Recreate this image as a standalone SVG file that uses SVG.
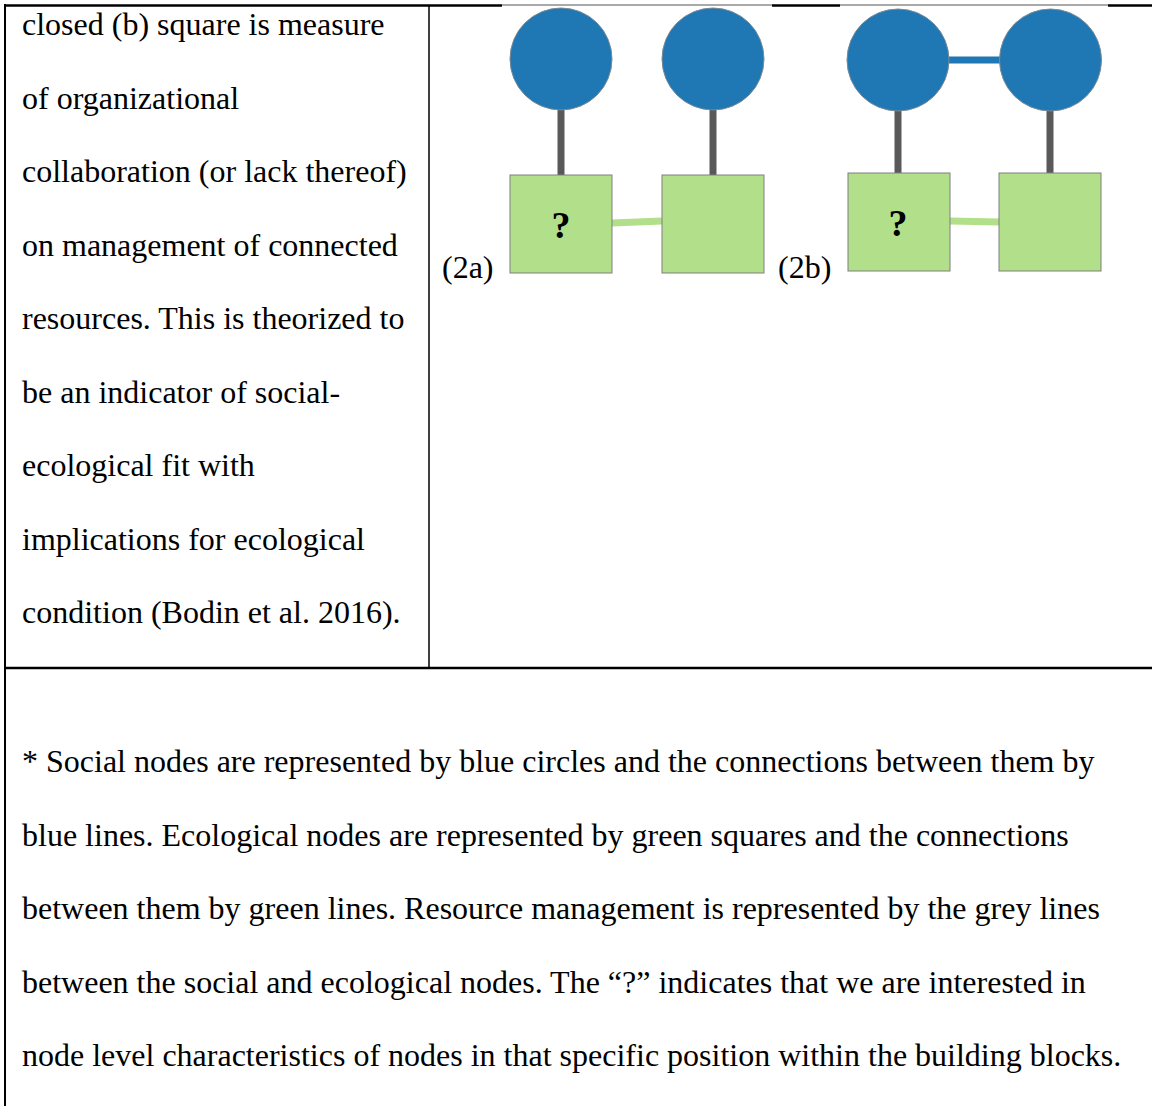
<svg xmlns="http://www.w3.org/2000/svg" width="1152" height="1106" viewBox="0 0 1152 1106">
  <style>
    .body { font-family: "Liberation Serif", "Times New Roman", serif; font-size: 32px; fill: #000; }
    .q { font-family: "Liberation Serif", "Times New Roman", serif; font-size: 38px; font-weight: bold; fill: #000; text-anchor: middle; }
    .rule { stroke: #000; fill: none; }
    .social { fill: #1f78b4; stroke: #7a8a96; stroke-width: 1; }
    .eco { fill: #b2df8a; stroke: #7f7f7f; stroke-width: 1; }
    .mgmt { stroke: #595959; stroke-width: 7; }
    .soclink { stroke: #1f78b4; stroke-width: 7; }
    .ecolink { stroke: #b2df8a; stroke-width: 7; }
    .imgedge { stroke: #555; stroke-width: 1; }
  </style>

  <rect width="1152" height="1106" fill="#fff"/>

  <!-- table frame -->
  <g id="table">
    <line class="rule" x1="4" y1="5.5" x2="502" y2="5.5" stroke-width="2.5"/>
    <line class="imgedge" x1="502" y1="5" x2="772" y2="5"/>
    <line class="rule" x1="772" y1="5.5" x2="840" y2="5.5" stroke-width="2.5"/>
    <line class="imgedge" x1="840" y1="5" x2="1108" y2="5"/>
    <line class="rule" x1="1108" y1="5.5" x2="1152" y2="5.5" stroke-width="2.5"/>
    <line class="rule" x1="5" y1="4" x2="5" y2="1106" stroke-width="2"/>
    <line class="rule" x1="429" y1="5" x2="429" y2="668" stroke-width="1.5"/>
    <line class="rule" x1="4" y1="668" x2="1152" y2="668" stroke-width="2.5"/>
  </g>

  <!-- left column description -->
  <g id="description" class="body">
    <text x="22" y="35">closed (b) square is measure</text>
    <text x="22" y="108.5">of organizational</text>
    <text x="22" y="182">collaboration (or lack thereof)</text>
    <text x="22" y="255.5">on management of connected</text>
    <text x="22" y="329">resources. This is theorized to</text>
    <text x="22" y="402.5">be an indicator of social-</text>
    <text x="22" y="476">ecological fit with</text>
    <text x="22" y="549.5">implications for ecological</text>
    <text x="22" y="623">condition (Bodin et al. 2016).</text>
  </g>

  <!-- connectors -->
  <g id="connectors">
    <line class="mgmt" x1="561" y1="108" x2="561" y2="176"/>
    <line class="mgmt" x1="713" y1="108" x2="713" y2="176"/>
    <line class="ecolink" x1="612" y1="223" x2="662" y2="221"/>
    <line class="soclink" x1="948" y1="60" x2="1001" y2="60"/>
    <line class="mgmt" x1="898" y1="108" x2="898" y2="174"/>
    <line class="mgmt" x1="1050" y1="108" x2="1050" y2="174"/>
    <line class="ecolink" x1="950" y1="221" x2="999" y2="222"/>
  </g>

  <!-- block 2a -->
  <g id="s2a1"><circle class="social" cx="561" cy="59" r="51"/></g>
  <g id="s2a2"><circle class="social" cx="713" cy="59" r="51"/></g>
  <g id="e2a1">
    <rect class="eco" x="510" y="175" width="102" height="98"/>
    <text class="q" x="561" y="238">?</text>
  </g>
  <g id="e2a2"><rect class="eco" x="662" y="175" width="102" height="98"/></g>
  <text id="label2a" class="body" x="442" y="278">(2a)</text>

  <!-- block 2b -->
  <g id="s2b1"><circle class="social" cx="898" cy="60" r="51"/></g>
  <g id="s2b2"><circle class="social" cx="1050.5" cy="60" r="51"/></g>
  <g id="e2b1">
    <rect class="eco" x="848" y="173" width="102" height="98"/>
    <text class="q" x="898" y="236">?</text>
  </g>
  <g id="e2b2"><rect class="eco" x="999" y="173" width="102" height="98"/></g>
  <text id="label2b" class="body" x="778" y="278">(2b)</text>

  <!-- footnote -->
  <g id="footnote" class="body">
    <text x="22" y="772">* Social nodes are represented by blue circles and the connections between them by</text>
    <text x="22" y="845.5">blue lines. Ecological nodes are represented by green squares and the connections</text>
    <text x="22" y="919">between them by green lines. Resource management is represented by the grey lines</text>
    <text x="22" y="992.5">between the social and ecological nodes. The “?” indicates that we are interested in</text>
    <text x="22" y="1066">node level characteristics of nodes in that specific position within the building blocks.</text>
  </g>
</svg>
